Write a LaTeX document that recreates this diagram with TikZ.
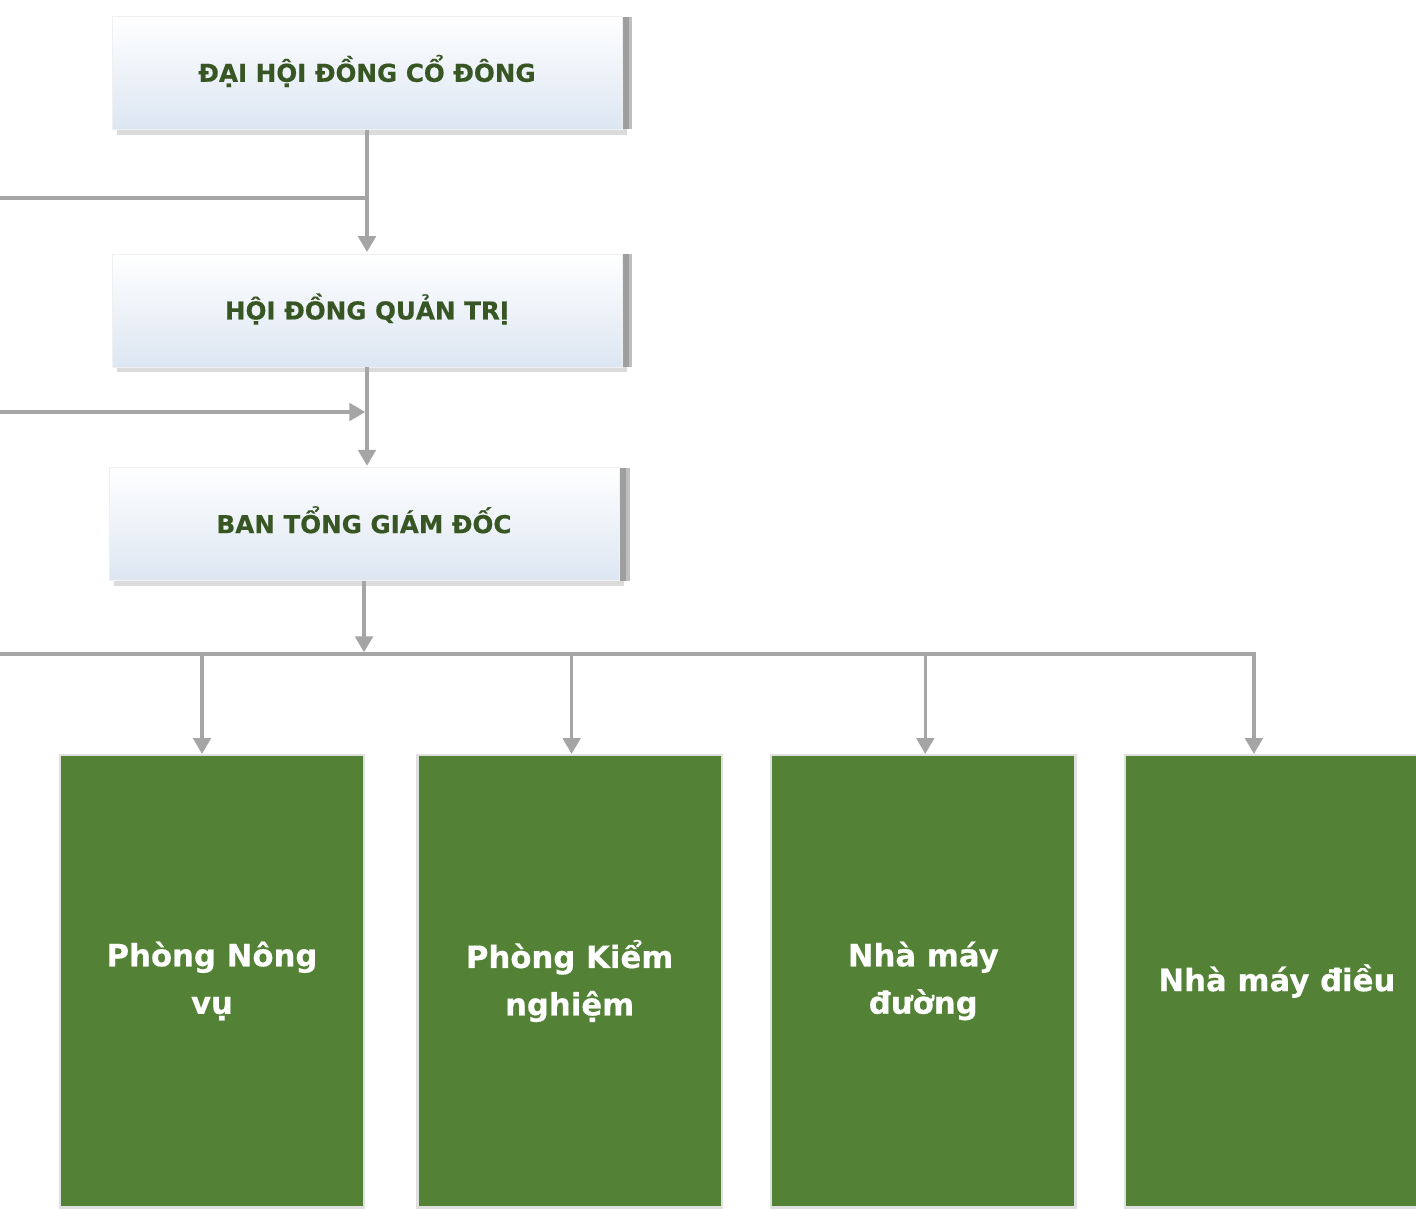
\documentclass[tikz,border=0pt]{standalone}
\usepackage{fontspec}
\setmainfont{DejaVu Sans}[BoldFeatures={FakeBold=0.5}]
\usepackage{xcolor}
\usepackage{tikz}
\usetikzlibrary{arrows.meta,shadows,positioning}

\definecolor{leadgreen}{HTML}{375623}
\definecolor{unitgreen}{HTML}{538135}
\definecolor{paleblue}{HTML}{DCE6F2}
\definecolor{linkgray}{HTML}{A5A5A5}

\begin{document}
\begin{tikzpicture}[x=0.02cm,y=-0.02cm,>={Triangle[width=10pt,length=9pt]},
        shorten >=1pt]
        \tikzstyle{board}=[rectangle,minimum width=10.2cm,minimum height=2.26cm,
          top color=white,bottom color=paleblue,draw=black!6,line width=0.4pt,
          text=leadgreen,font=\fontsize{14}{17}\selectfont\bfseries,
          text height=13pt,text depth=3pt,
          general shadow={fill=black!14,shadow xshift=3pt,shadow yshift=-3pt},
          general shadow={fill=black!25,shadow xshift=6pt,shadow yshift=0pt},
          general shadow={fill=black!38,shadow xshift=4pt,shadow yshift=0pt}]
        \tikzstyle{unit}=[rectangle,minimum width=6.04cm,minimum height=9cm,
          fill=unitgreen,text=white,align=center,
          font=\fontsize{17.5}{27}\selectfont\bfseries,
          general shadow={fill=black!12,shadow xshift=0pt,shadow yshift=-1pt,
            shadow scale=1.015}]
        \tikzstyle{link}=[->,draw=linkgray,line width=1.8pt]
        \tikzstyle{line}=[-,draw=linkgray,line width=1.8pt,shorten >=0pt]

        \useasboundingbox (0,0) rectangle (1416,1209);
        \clip (0,0) rectangle (1416,1209);

        \node[board] (dhdcd) at (367,73) {ĐẠI HỘI ĐỒNG CỔ ĐÔNG};
        \node[board] (hdqt) [below=2.48cm of dhdcd] {HỘI ĐỒNG QUẢN TRỊ};
        \node[board] (btgd) [below=2cm of hdqt,xshift=-0.06cm] {BAN TỔNG GIÁM ĐỐC};

        \node[unit] (pnv) at (212,981) {Phòng Nông\\vụ};
        \node[unit] (pkn) [right=1.1cm of pnv] {Phòng Kiểm\\nghiệm};
        \node[unit] (nmd) [right=1.02cm of pkn] {Nhà máy\\đường};
        \node[unit] (nmdl) [right=1.02cm of nmd] {Nhà máy điều};

        \coordinate (in1) at (0,198);
        \coordinate (in2) at (0,412);
        \coordinate (bus) at (0,654);

        \draw[link] (dhdcd.south) -- (dhdcd.south |- hdqt.north);
        \draw[line] (in1) -- (in1 -| dhdcd.south);
        \draw[link] (hdqt.south) -- (hdqt.south |- btgd.north);
        \draw[link] (in2) -- (in2 -| hdqt.south);
        \draw[link] (btgd.south) -- (btgd.south |- bus);
        \draw[link] (bus) -- ([xshift=-0.46cm]nmdl.north |- bus)
          -- ([xshift=-0.46cm]nmdl.north);

        % drops to the units
        \foreach \u/\s in {pnv/-0.2,pkn/0.04,nmd/0.04}
          \draw[link] ([xshift=\s cm]\u.north |- bus) -- ([xshift=\s cm]\u.north);
    \end{tikzpicture}
\end{document}
